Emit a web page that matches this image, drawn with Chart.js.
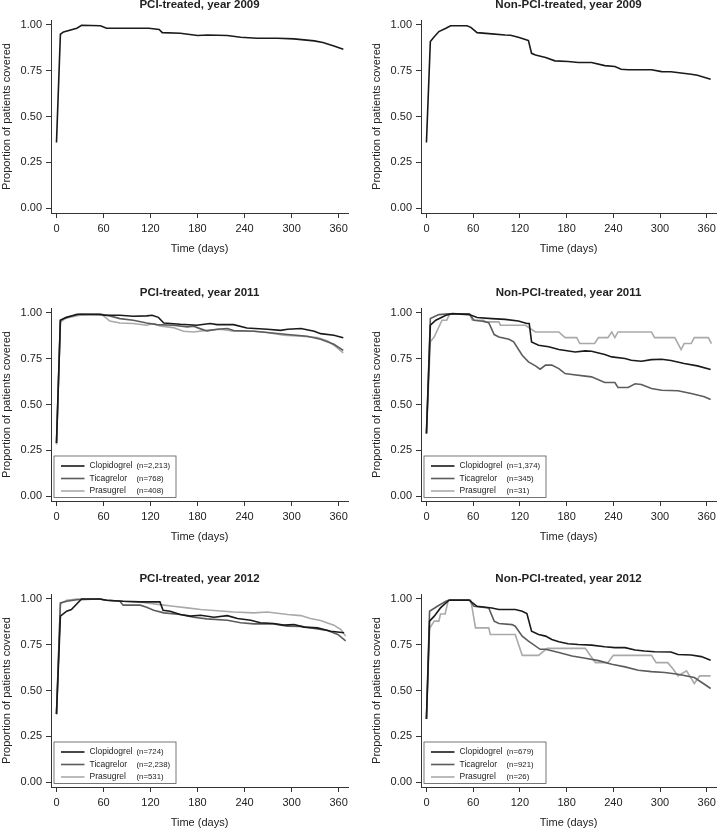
<!DOCTYPE html>
<html>
<head>
<meta charset="utf-8">
<script src="https://cdn.jsdelivr.net/npm/chart.js@4"></script>
<style>
  html, body { margin: 0; padding: 0; background: #fff; overflow: hidden; }
  #wrap { position: relative; width: 720px; height: 831px; }
  #wrap canvas { position: absolute; }
</style>
</head>
<body>
<div id="wrap"></div>
<script>
// Proportion of patients covered, by treatment group and year

const xTicks = [0, 60, 120, 180, 240, 300, 360];
const yTicks = [0, 0.25, 0.5, 0.75, 1];
const drugNames = ['Clopidogrel', 'Ticagrelor', 'Prasugrel'];
const drugColors = ['#1a1a1a', '#5c5c5c', '#a9a9a9'];

const nPci2011 = ['(n=2,213)', '(n=768)', '(n=408)'];
const nNonPci2011 = ['(n=1,374)', '(n=345)', '(n=31)'];
const nPci2012 = ['(n=724)', '(n=2,238)', '(n=531)'];
const nNonPci2012 = ['(n=679)', '(n=921)', '(n=26)'];

// 2009 (clopidogrel only)
const pci2009Days = [0, 5, 9, 26, 32, 56, 64, 118, 131, 135, 158, 180, 193, 218, 235, 256, 282, 303, 329, 340, 354, 366];
const pci2009Vals = [0.358, 0.949, 0.962, 0.982, 0.998, 0.996, 0.982, 0.982, 0.975, 0.958, 0.955, 0.942, 0.945, 0.942, 0.933, 0.927, 0.927, 0.924, 0.913, 0.904, 0.885, 0.867];
const nonPci2009Days = [0, 5, 10, 16, 25, 31, 52, 57, 65, 84, 101, 108, 118, 129, 131, 135, 140, 153, 165, 182, 195, 212, 229, 242, 250, 259, 289, 302, 314, 340, 348, 365];
const nonPci2009Vals = [0.358, 0.909, 0.936, 0.964, 0.982, 0.996, 0.996, 0.987, 0.958, 0.951, 0.945, 0.944, 0.933, 0.918, 0.915, 0.845, 0.836, 0.822, 0.804, 0.800, 0.795, 0.795, 0.778, 0.773, 0.758, 0.755, 0.755, 0.745, 0.744, 0.731, 0.725, 0.704];

// 2011 PCI
const pci2011ClopDays = [0, 5, 11, 26, 55, 62, 81, 98, 115, 122, 130, 137, 158, 179, 196, 205, 226, 243, 269, 286, 295, 312, 329, 337, 354, 366];
const pci2011ClopVals = [0.29, 0.96, 0.973, 0.993, 0.993, 0.987, 0.987, 0.982, 0.984, 0.987, 0.976, 0.945, 0.938, 0.933, 0.942, 0.936, 0.936, 0.918, 0.911, 0.905, 0.911, 0.915, 0.9, 0.887, 0.878, 0.864];
const pci2011TicaDays = [0, 5, 13, 30, 58, 68, 81, 98, 115, 128, 149, 167, 175, 184, 192, 205, 218, 226, 252, 269, 295, 320, 337, 354, 366];
const pci2011TicaVals = [0.29, 0.96, 0.978, 0.993, 0.991, 0.984, 0.969, 0.96, 0.945, 0.936, 0.933, 0.924, 0.927, 0.913, 0.902, 0.911, 0.915, 0.904, 0.9, 0.893, 0.882, 0.873, 0.856, 0.829, 0.796];
const pci2011PrasDays = [0, 5, 13, 30, 58, 68, 81, 98, 115, 124, 132, 149, 162, 175, 192, 209, 226, 252, 269, 290, 312, 333, 346, 356, 366];
const pci2011PrasVals = [0.282, 0.951, 0.973, 0.987, 0.991, 0.956, 0.945, 0.942, 0.933, 0.942, 0.929, 0.92, 0.9, 0.896, 0.905, 0.911, 0.9, 0.9, 0.893, 0.878, 0.873, 0.866, 0.847, 0.818, 0.782];

// 2011 non-PCI
const nonPci2011ClopDays = [0, 5, 12, 25, 33, 55, 65, 84, 101, 118, 129, 132, 135, 144, 157, 170, 191, 204, 212, 229, 238, 255, 263, 276, 289, 302, 314, 331, 348, 365];
const nonPci2011ClopVals = [0.342, 0.933, 0.96, 0.987, 0.996, 0.991, 0.975, 0.969, 0.965, 0.956, 0.942, 0.942, 0.842, 0.824, 0.815, 0.8, 0.787, 0.793, 0.791, 0.773, 0.76, 0.751, 0.742, 0.736, 0.745, 0.747, 0.74, 0.724, 0.711, 0.691];
const nonPci2011TicaDays = [0, 5, 16, 29, 55, 61, 72, 80, 87, 93, 106, 112, 123, 131, 140, 146, 153, 161, 170, 178, 187, 204, 212, 229, 242, 246, 259, 268, 276, 289, 302, 323, 340, 357, 365];
const nonPci2011TicaVals = [0.342, 0.969, 0.991, 0.996, 0.996, 0.96, 0.955, 0.947, 0.882, 0.869, 0.856, 0.842, 0.769, 0.733, 0.711, 0.693, 0.715, 0.715, 0.696, 0.669, 0.664, 0.655, 0.651, 0.62, 0.62, 0.593, 0.593, 0.613, 0.609, 0.587, 0.578, 0.575, 0.56, 0.542, 0.527];
const nonPci2011PrasDays = [0, 5, 10, 16, 20, 26, 30, 55, 59, 74, 76, 93, 95, 127, 140, 170, 178, 193, 197, 216, 221, 233, 238, 242, 246, 289, 293, 319, 327, 331, 340, 344, 362, 366];
const nonPci2011PrasVals = [0.342, 0.842, 0.869, 0.924, 0.96, 0.96, 0.996, 0.996, 0.96, 0.96, 0.951, 0.951, 0.933, 0.933, 0.896, 0.896, 0.865, 0.865, 0.833, 0.833, 0.865, 0.865, 0.896, 0.865, 0.896, 0.896, 0.865, 0.865, 0.8, 0.833, 0.833, 0.865, 0.865, 0.833];

// 2012 PCI
const pci2012ClopDays = [0, 5, 13, 19, 32, 55, 64, 85, 107, 132, 136, 145, 158, 171, 184, 201, 218, 231, 248, 260, 277, 290, 303, 316, 333, 350, 367];
const pci2012ClopVals = [0.371, 0.906, 0.933, 0.942, 1.0, 1.0, 0.993, 0.987, 0.984, 0.984, 0.938, 0.933, 0.915, 0.906, 0.911, 0.9, 0.909, 0.893, 0.884, 0.87, 0.866, 0.857, 0.86, 0.846, 0.842, 0.824, 0.815];
const pci2012TicaDays = [0, 5, 13, 26, 55, 64, 81, 85, 107, 115, 124, 137, 158, 175, 192, 218, 235, 252, 277, 295, 312, 329, 346, 359, 369];
const pci2012TicaVals = [0.371, 0.978, 0.987, 0.996, 1.0, 0.993, 0.987, 0.966, 0.966, 0.955, 0.938, 0.924, 0.915, 0.9, 0.891, 0.884, 0.87, 0.864, 0.864, 0.851, 0.85, 0.839, 0.828, 0.806, 0.771];
const pci2012PrasDays = [0, 5, 13, 26, 55, 64, 85, 107, 132, 149, 167, 184, 201, 226, 252, 269, 295, 312, 324, 337, 354, 363, 369];
const pci2012PrasVals = [0.371, 0.973, 0.993, 1.0, 1.0, 0.993, 0.987, 0.982, 0.969, 0.96, 0.951, 0.942, 0.937, 0.929, 0.924, 0.929, 0.915, 0.909, 0.893, 0.882, 0.857, 0.833, 0.797];

// 2012 non-PCI
const nonPci2012ClopDays = [0, 4, 10, 18, 29, 55, 65, 84, 93, 114, 123, 129, 135, 144, 153, 161, 170, 182, 195, 212, 229, 242, 255, 268, 280, 293, 314, 323, 340, 353, 365];
const nonPci2012ClopVals = [0.344, 0.879, 0.906, 0.951, 0.993, 0.993, 0.96, 0.951, 0.942, 0.942, 0.933, 0.92, 0.824, 0.806, 0.797, 0.779, 0.766, 0.755, 0.751, 0.748, 0.739, 0.734, 0.734, 0.721, 0.716, 0.712, 0.71, 0.697, 0.694, 0.685, 0.665];
const nonPci2012TicaDays = [0, 4, 14, 25, 31, 55, 61, 80, 87, 93, 110, 114, 123, 131, 146, 153, 170, 187, 204, 221, 238, 255, 272, 289, 306, 323, 344, 357, 365];
const nonPci2012TicaVals = [0.344, 0.933, 0.96, 0.987, 0.996, 0.996, 0.96, 0.951, 0.879, 0.866, 0.86, 0.851, 0.797, 0.77, 0.725, 0.725, 0.707, 0.688, 0.676, 0.663, 0.643, 0.629, 0.611, 0.603, 0.598, 0.589, 0.571, 0.534, 0.511];
const nonPci2012PrasDays = [0, 4, 10, 16, 18, 24, 28, 57, 63, 80, 82, 114, 123, 144, 155, 204, 217, 233, 240, 289, 295, 310, 317, 323, 334, 344, 351, 365];
const nonPci2012PrasVals = [0.344, 0.839, 0.879, 0.879, 0.918, 0.918, 0.993, 0.993, 0.842, 0.842, 0.806, 0.806, 0.692, 0.692, 0.73, 0.73, 0.652, 0.652, 0.692, 0.692, 0.652, 0.652, 0.616, 0.58, 0.607, 0.538, 0.58, 0.58];

const FONT = '"Liberation Sans", Arial, Helvetica, sans-serif';
const INK = '#222';
Chart.defaults.font.family = FONT;
Chart.defaults.color = INK;

// draws the panel title (centred on the plot area) and the boxed legend
const panelDecor = {
  id: 'panelDecor',
  afterDatasetsDraw(chart, args, opts) {
    const ctx = chart.ctx;
    const a = chart.chartArea;
    ctx.save();
    ctx.fillStyle = INK;
    ctx.font = 'bold 11.5px ' + FONT;
    ctx.textAlign = 'center';
    ctx.textBaseline = 'middle';
    ctx.fillText(opts.title, (a.left + a.right) / 2, a.top - 15);

    if (opts.counts) {
      const bx = a.left + 3, by = a.bottom - 45, bw = 122, bh = 41.5;
      ctx.fillStyle = '#fff';
      ctx.fillRect(bx, by, bw, bh);
      ctx.strokeStyle = '#555';
      ctx.lineWidth = 0.8;
      ctx.strokeRect(bx, by, bw, bh);
      ctx.textAlign = 'left';
      drugNames.forEach((name, i) => {
        const y = by + 10 + i * 12.5;
        ctx.strokeStyle = drugColors[i];
        ctx.lineWidth = 1.6;
        ctx.beginPath();
        ctx.moveTo(a.left + 10, y);
        ctx.lineTo(a.left + 33.5, y);
        ctx.stroke();
        ctx.fillStyle = INK;
        ctx.font = '8.5px ' + FONT;
        ctx.fillText(name, a.left + 38.5, y);
        ctx.font = '7.8px ' + FONT;
        ctx.fillText(opts.counts[i], a.left + 85.5, y);
      });
    }
    ctx.restore();
  }
};

function pts(days, vals) {
  return days.map((d, i) => ({ x: d, y: vals[i] }));
}

function makePanel(left, top, width, padRight, title, series, counts) {
  const canvas = document.createElement('canvas');
  canvas.width = width;
  canvas.height = 260;
  canvas.style.left = left + 'px';
  canvas.style.top = top + 'px';
  document.getElementById('wrap').appendChild(canvas);

  new Chart(canvas, {
    type: 'line',
    data: {
      datasets: series.map(s => ({
        data: s.data,
        borderColor: s.color,
        borderWidth: 1.6,
        pointRadius: 0,
        tension: 0,
        fill: false
      }))
    },
    options: {
      responsive: false,
      animation: false,
      layout: { padding: { top: 22, right: padRight, left: 0, bottom: 0 } },
      plugins: {
        legend: { display: false },
        tooltip: { enabled: false },
        panelDecor: { title: title, counts: counts }
      },
      scales: {
        x: {
          type: 'linear',
          min: -7,
          max: 372,
          afterBuildTicks: s => { s.ticks = xTicks.map(v => ({ value: v })); },
          afterFit: s => { s.height = 45; },
          grid: { drawOnChartArea: false, drawTicks: true, tickLength: 5, tickColor: '#333' },
          border: { display: true, color: '#333', width: 1 },
          ticks: { font: { size: 11 }, color: INK, padding: 4, maxRotation: 0, callback: v => String(v) },
          title: { display: true, text: 'Time (days)', font: { size: 11 }, color: INK, padding: { top: 0, bottom: 2 } }
        },
        y: {
          min: -0.027,
          max: 1.027,
          afterBuildTicks: s => { s.ticks = yTicks.map(v => ({ value: v })); },
          afterFit: s => { s.width = 51; },
          grid: { drawOnChartArea: false, drawTicks: true, tickLength: 5, tickColor: '#333' },
          border: { display: true, color: '#333', width: 1 },
          ticks: { font: { size: 11 }, color: INK, padding: 4, callback: v => Number(v).toFixed(2) },
          title: { display: true, text: 'Proportion of patients covered', font: { size: 11 }, color: INK, padding: { top: 0, bottom: 0 } }
        }
      }
    },
    plugins: [panelDecor]
  });
}

function threeDrugs(clop, tica, pras) {
  return [
    { data: clop, color: drugColors[0] },
    { data: tica, color: drugColors[1] },
    { data: pras, color: drugColors[2] }
  ];
}

const LEFT = { x: 0, w: 360, pad: 12 };
const RIGHT = { x: 370, w: 350, pad: 2 };
const rowTops = [-2, 286, 572];

makePanel(LEFT.x, rowTops[0], LEFT.w, LEFT.pad, 'PCI-treated, year 2009',
  [{ data: pts(pci2009Days, pci2009Vals), color: drugColors[0] }], null);
makePanel(RIGHT.x, rowTops[0], RIGHT.w, RIGHT.pad, 'Non-PCI-treated, year 2009',
  [{ data: pts(nonPci2009Days, nonPci2009Vals), color: drugColors[0] }], null);

makePanel(LEFT.x, rowTops[1], LEFT.w, LEFT.pad, 'PCI-treated, year 2011',
  threeDrugs(pts(pci2011ClopDays, pci2011ClopVals), pts(pci2011TicaDays, pci2011TicaVals), pts(pci2011PrasDays, pci2011PrasVals)), nPci2011);
makePanel(RIGHT.x, rowTops[1], RIGHT.w, RIGHT.pad, 'Non-PCI-treated, year 2011',
  threeDrugs(pts(nonPci2011ClopDays, nonPci2011ClopVals), pts(nonPci2011TicaDays, nonPci2011TicaVals), pts(nonPci2011PrasDays, nonPci2011PrasVals)), nNonPci2011);

makePanel(LEFT.x, rowTops[2], LEFT.w, LEFT.pad, 'PCI-treated, year 2012',
  threeDrugs(pts(pci2012ClopDays, pci2012ClopVals), pts(pci2012TicaDays, pci2012TicaVals), pts(pci2012PrasDays, pci2012PrasVals)), nPci2012);
makePanel(RIGHT.x, rowTops[2], RIGHT.w, RIGHT.pad, 'Non-PCI-treated, year 2012',
  threeDrugs(pts(nonPci2012ClopDays, nonPci2012ClopVals), pts(nonPci2012TicaDays, nonPci2012TicaVals), pts(nonPci2012PrasDays, nonPci2012PrasVals)), nNonPci2012);
</script>
</body>
</html>
